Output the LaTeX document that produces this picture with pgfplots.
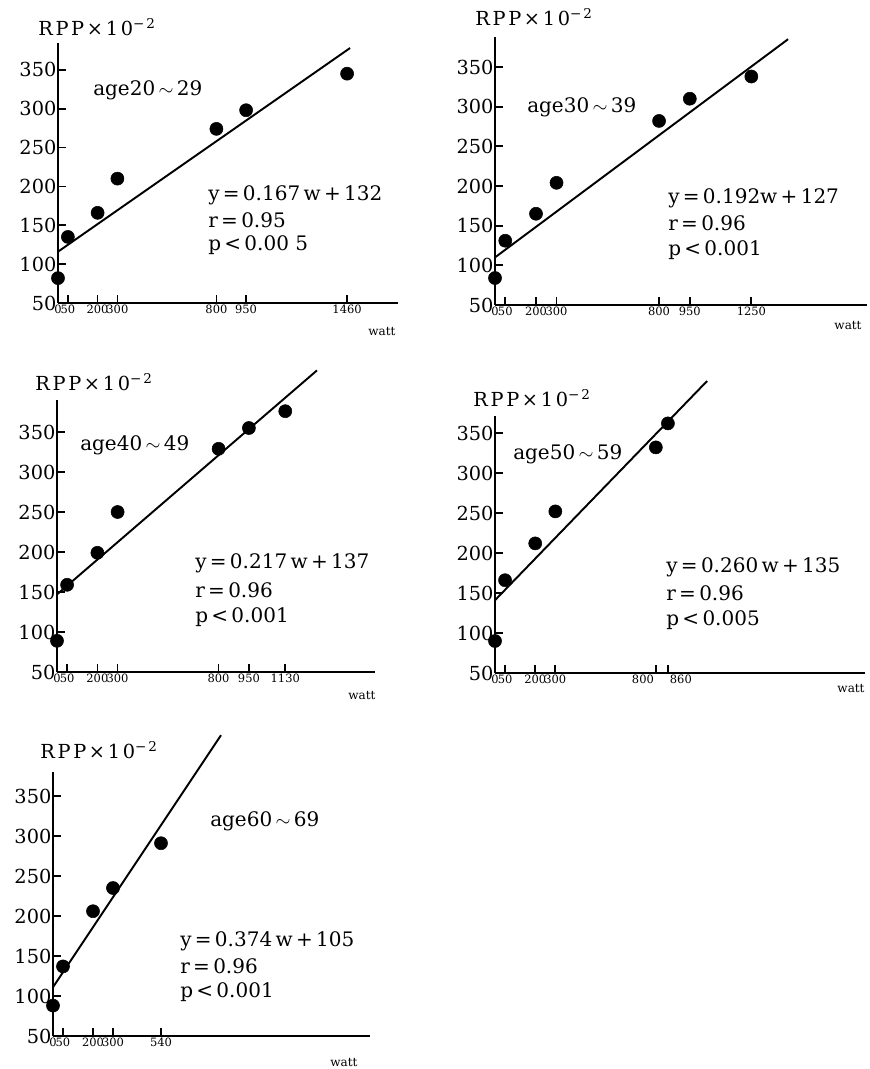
\documentclass[border=0pt]{standalone}
\usepackage{fontspec}
\setmainfont{DejaVu Serif}
\newfontfamily\widefont[LetterSpace=14]{DejaVu Serif}
\usepackage{pgfplots}
\pgfplotsset{compat=1.18}

\pgfplotsset{
  panel/.style={
    axis lines=left,
    axis line style={-, line width=1.5pt},
    tick align=inside,
    major tick length=6pt,
    tick style={line width=1.3pt, black},
    xmin=0, ymin=50,
    ytick={50,100,150,200,250,300,350},
    clip=false,
    anchor=south west,
    /pgf/number format/assume math mode=true,
    yticklabel style={font=\fontsize{14.5}{15}\selectfont, inner sep=1pt},
    xticklabel style={font=\fontsize{8.6}{9}\selectfont, inner sep=1pt},
  },
  dots/.style={only marks, mark=*, mark size=4.9pt, black},
  fit/.style={no marks, line width=1.45pt, black},
}
\newcommand{\rpp}{{\fontsize{14.5}{15}\widefont RPP×10\textsuperscript{−2}}}
\newcommand{\ann}[1]{{\fontsize{15}{16}\selectfont #1}}
\newcommand{\watt}{{\fontsize{9}{9}\selectfont watt}}

\begin{document}
\begin{tikzpicture}
\path[use as bounding box] (0pt,0pt) rectangle (651.75pt,-801.75pt);

% age 20-29
\begin{axis}[panel, at={(43.5pt,-227.25pt)}, x=0.1485pt, y=0.583pt,
  xmax=1717, ymax=385,
  xtick={0,50,200,300,800,950,1460},
  xticklabels={0,50,200,300,800,950,1460}]
\addplot[dots] coordinates {(0,82) (50,135) (200,166) (300,210) (800,274) (950,298) (1460,345)};
\addplot[fit] coordinates {(0,116) (1475,378)};
\end{axis}

% age 30-39
\begin{axis}[panel, at={(371.25pt,-228.75pt)}, x=0.1538pt, y=0.595pt,
  xmax=1815, ymax=388,
  xtick={0,50,200,300,800,950,1250},
  xticklabels={0,50,200,300,800,950,1250}]
\addplot[dots] coordinates {(0,84) (50,131) (200,165) (300,204) (800,282) (950,310) (1250,338)};
\addplot[fit] coordinates {(0,110) (1429,385)};
\end{axis}

% age 40-49
\begin{axis}[panel, at={(42.75pt,-504pt)}, x=0.1515pt, y=0.6pt,
  xmax=1574, ymax=390,
  xtick={0,50,200,300,800,950,1130},
  xticklabels={0,50,200,300,800,950,1130}]
\addplot[dots] coordinates {(0,89) (50,159) (200,199) (300,250) (800,329) (950,355) (1130,376)};
\addplot[fit] coordinates {(0,147) (1287,427)};
\end{axis}

% age 50-59
\begin{axis}[panel, at={(371.25pt,-504.75pt)}, x=0.1508pt, y=0.6pt,
  xmax=1840, ymax=371,
  xtick={0,50,200,300,800,860},
  xticklabels={0,50,200,300,\makebox[0pt][r]{800\hspace{1.5pt}},\makebox[0pt][l]{\hspace{1.5pt}860}}]
\addplot[dots] coordinates {(0,90) (50,166) (200,212) (300,252) (800,332) (860,362)};
\addplot[fit] coordinates {(0,141) (1055,415)};
\end{axis}

% age 60-69
\begin{axis}[panel, at={(39.75pt,-777pt)}, x=0.15pt, y=0.6pt,
  xmax=1585, ymax=380,
  xtick={0,50,200,300,540},
  xticklabels={0,50,200,300,540}]
\addplot[dots] coordinates {(0,88) (50,137) (200,206) (300,235) (540,291)};
\addplot[fit] coordinates {(0,111) (840,426)};
\end{axis}

\begin{scope}[x=0.75pt, y=-0.75pt, every node/.style={anchor=west, inner sep=0pt}]
\node at (38,27) {\rpp};
\node at (475,17) {\rpp};
\node at (35,382) {\rpp};
\node at (473,398) {\rpp};
\node at (40,750) {\rpp};

\node at (93,90) {\ann{age20\,$\sim$\,29}};
\node at (527,107) {\ann{age30\,$\sim$\,39}};
\node at (80,445) {\ann{age40\,$\sim$\,49}};
\node at (513,454) {\ann{age50\,$\sim$\,59}};
\node at (210,821) {\ann{age60\,$\sim$\,69}};

\node at (208,195) {\ann{y\,=\,0.167\,w\,+\,132}};
\node at (208,220) {\ann{r\,=\,0.95}};
\node at (208,245) {\ann{p\,<\,0.00\ 5}};

\node at (668,198) {\ann{y\,=\,0.192w\,+\,127}};
\node at (668,223) {\ann{r\,=\,0.96}};
\node at (668,250) {\ann{p\,<\,0.001}};

\node at (195,563) {\ann{y\,=\,0.217\,w\,+\,137}};
\node at (195,590) {\ann{r\,=\,0.96}};
\node at (195,617) {\ann{p\,<\,0.001}};

\node at (666,567) {\ann{y\,=\,0.260\,w\,+\,135}};
\node at (666,593) {\ann{r\,=\,0.96}};
\node at (666,620) {\ann{p\,<\,0.005}};

\node at (180,941) {\ann{y\,=\,0.374\,w\,+\,105}};
\node at (180,966) {\ann{r\,=\,0.96}};
\node at (180,992) {\ann{p\,<\,0.001}};

\node[anchor=center] at (382,332) {\watt};
\node[anchor=center] at (848,326) {\watt};
\node[anchor=center] at (362,695) {\watt};
\node[anchor=center] at (851,688) {\watt};
\node[anchor=center] at (344,1062) {\watt};
\end{scope}
\end{tikzpicture}
\end{document}
